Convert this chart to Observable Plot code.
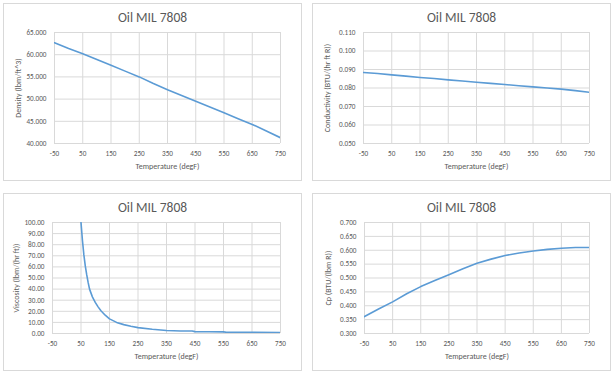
<!DOCTYPE html>
<html><head><meta charset="utf-8">
<script src="https://cdn.jsdelivr.net/npm/d3@7"></script>
<script src="https://cdn.jsdelivr.net/npm/@observablehq/plot@0.6"></script>
<style>
body{margin:0;background:#fff;width:614px;height:374px;position:relative;overflow:hidden;font-family:Carlito,Calibri,Lato,sans-serif}
.panel{position:absolute;width:297px;height:176px;border:1px solid #d9d9d9;background:#fff}
.title{position:absolute;left:0;right:0;top:5px;text-align:center;font-size:13.5px;color:#595959;z-index:2}
.panel svg{position:absolute;left:0;top:0}
</style></head><body>
<script>
const chartTitle = "Oil MIL 7808";
const xLabel = "Temperature (degF)";
const xTicks = [-50, 50, 150, 250, 350, 450, 550, 650, 750];

const densityT = [-50, 0, 50, 100, 150, 200, 250, 300, 350, 400, 450, 500, 550, 600, 650, 700, 750];
const densityV = [62.7, 61.4, 60.2, 58.9, 57.6, 56.3, 55.0, 53.5, 52.1, 50.8, 49.5, 48.2, 46.9, 45.6, 44.3, 42.8, 41.3];
const densityTicks = [40, 45, 50, 55, 60, 65];

const condT = [-50, 0, 50, 100, 150, 200, 250, 300, 350, 400, 450, 500, 550, 600, 650, 700, 750];
const condV = [0.0884, 0.0878, 0.0871, 0.0864, 0.0857, 0.0851, 0.0844, 0.0838, 0.0831, 0.0825, 0.0819, 0.0812, 0.0806, 0.0800, 0.0794, 0.0786, 0.0777];
const condTicks = [0.05, 0.06, 0.07, 0.08, 0.09, 0.10, 0.11];

const viscT = [50, 55, 60, 65, 70, 75, 80, 90, 100, 110, 120, 135, 150, 175, 200, 225, 250, 300, 350, 400, 440, 450, 500, 550, 560, 650, 750];
const viscV = [100, 84, 71, 61, 53, 46, 40, 33, 28, 24, 20.5, 16.5, 13.2, 10, 8, 6.5, 5.3, 3.8, 2.7, 2.3, 2.2, 1.7, 1.6, 1.5, 1.1, 1.0, 0.9];
const viscTicks = [0, 10, 20, 30, 40, 50, 60, 70, 80, 90, 100];

const cpT = [-50, 0, 50, 100, 150, 200, 250, 300, 350, 400, 450, 500, 550, 600, 650, 700, 750];
const cpV = [0.361, 0.388, 0.414, 0.443, 0.469, 0.491, 0.512, 0.533, 0.553, 0.568, 0.581, 0.590, 0.597, 0.603, 0.607, 0.610, 0.610];
const cpTicks = [0.30, 0.35, 0.40, 0.45, 0.50, 0.55, 0.60, 0.65, 0.70];

const gray = "#595959", grid = "#d9d9d9", blue = "#5b9bd5";

function panel(left, top, T, V, yTicks, yFmt, yLabel, mL) {
  const div = document.createElement("div");
  div.className = "panel";
  div.style.left = left + "px";
  div.style.top = top + "px";
  const t = document.createElement("div");
  t.className = "title";
  t.textContent = chartTitle;
  div.appendChild(t);
  const data = T.map((x, i) => ({x, y: V[i]}));
  const svg = Plot.plot({
    width: 297, height: 176,
    marginLeft: mL, marginRight: 21, marginTop: 28, marginBottom: 37,
    style: {fontFamily: "Carlito, Calibri, Lato, sans-serif", fontSize: "7.2px", color: gray, background: "transparent"},
    x: {domain: [-50, 750], ticks: xTicks, label: null},
    y: {domain: [yTicks[0], yTicks[yTicks.length - 1]], ticks: yTicks, label: null},
    marks: [
      Plot.gridX(xTicks, {stroke: grid, strokeOpacity: 1}),
      Plot.gridY(yTicks, {stroke: grid, strokeOpacity: 1}),
      Plot.axisX(xTicks, {tickSize: 0, tickPadding: 7, fill: gray, tickFormat: d => String(d), label: null, fontSize: 7.2}),
      Plot.axisX([], {tickSize: 0, fill: gray, label: xLabel, labelAnchor: "center", labelOffset: 25, labelArrow: "none", fontSize: 8}),
      Plot.axisY(yTicks, {tickSize: 0, tickPadding: 8, fill: gray, tickFormat: yFmt, label: null, fontSize: 7.2}),
      Plot.axisY([], {tickSize: 0, fill: gray, label: yLabel, labelAnchor: "center", labelOffset: 39, labelArrow: "none", fontSize: 8}),
      Plot.line(data, {x: "x", y: "y", stroke: blue, strokeWidth: 1.6, clip: true})
    ]
  });
  div.appendChild(svg);
  document.body.appendChild(div);
}

panel(3, 3, densityT, densityV, densityTicks, d3.format(".3f"), "Density (lbm/ft^3)", 50);
panel(312, 3, condT, condV, condTicks, d3.format(".3f"), "Conductivity (BTU/(hr ft R))", 50);
panel(3, 193, viscT, viscV, viscTicks, d3.format(".2f"), "Viscosity (lbm/(hr ft))", 48);
panel(312, 193, cpT, cpV, cpTicks, d3.format(".3f"), "Cp (BTU/(lbm R))", 51);
</script>
</body></html>
